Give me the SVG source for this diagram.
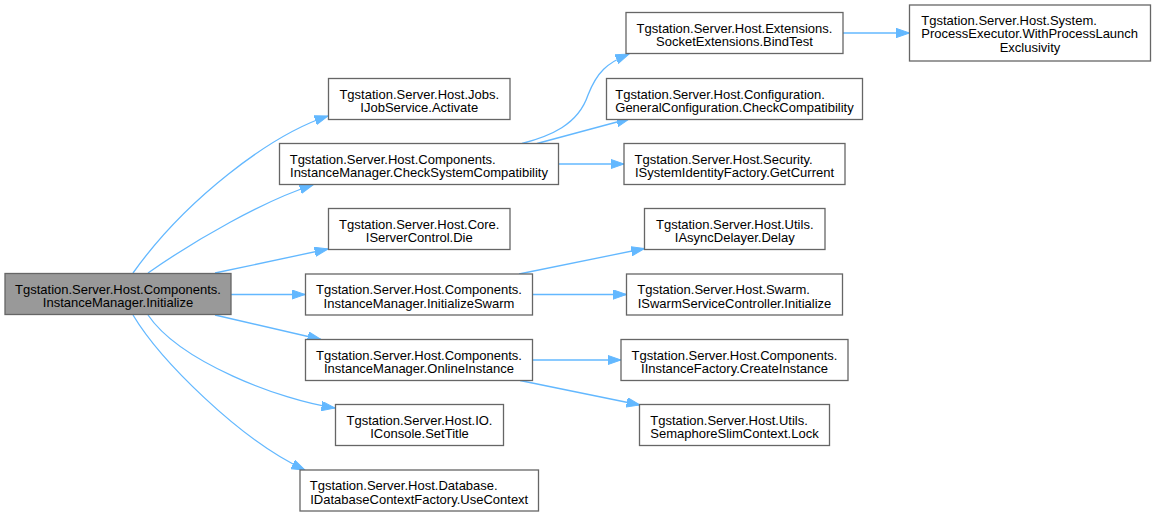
<svg xmlns="http://www.w3.org/2000/svg" width="1155" height="516" viewBox="0 0 1155 516">
<defs>
<style>
.node rect{fill:#ffffff;stroke:#666666;stroke-width:1.3}
#n_init rect{fill:#999999}
text{font-family:"Liberation Sans",Arial,Helvetica,sans-serif;font-size:13px;fill:#000000}
.c{text-anchor:middle}
.s{text-anchor:start}
.edge{fill:none;stroke:#63b8ff;stroke-width:1.3;marker-end:url(#arr)}
</style>
<marker id="arr" markerUnits="userSpaceOnUse" markerWidth="14" markerHeight="10" refX="13.5" refY="4.7" orient="auto">
<path d="M0,0 L13.5,4.7 L0,9.4 z" fill="#63b8ff" stroke="#63b8ff" stroke-width="1"/>
</marker>
</defs>
<rect x="0" y="0" width="1155" height="516" fill="#ffffff"/>
<g id="edges">
<path class="edge" d="M133,273 C185,200 270,135 328,116"/>
<path class="edge" d="M148,273 C195,240 265,200 313,185"/>
<path class="edge" d="M215,273 L328,249"/>
<path class="edge" d="M231,294.5 L305,294.5"/>
<path class="edge" d="M215,315 L321,339.5"/>
<path class="edge" d="M148,315 C180,362 280,400 335,408"/>
<path class="edge" d="M133,315 C160,360 240,440 305,470"/>
<path class="edge" d="M522,143.5 C550,136 578,125 588,95 C597,72 607,63 629,54"/>
<path class="edge" d="M537,143.5 L630,118.5"/>
<path class="edge" d="M558.5,164 L624,164"/>
<path class="edge" d="M843,33 L909.5,33"/>
<path class="edge" d="M519,274 L644.5,248.5"/>
<path class="edge" d="M532.5,294.5 L626.5,294.5"/>
<path class="edge" d="M532.5,360 L621,360"/>
<path class="edge" d="M520,380.5 L640,405"/>
</g>
<g id="n_init" class="node"><rect x="5" y="273.5" width="226" height="41"/>
<text class="c" x="118" y="293.5">Tgstation.Server.Host.Components.</text>
<text class="c" x="118" y="307">InstanceManager.Initialize</text></g>
<g id="n_activate" class="node"><rect x="328.5" y="78.5" width="181.5" height="41"/>
<text class="c" x="419.25" y="98.5">Tgstation.Server.Host.Jobs.</text>
<text class="c" x="419.25" y="112">IJobService.Activate</text></g>
<g id="n_csc" class="node"><rect x="279.5" y="143.5" width="279" height="41"/>
<text class="s" x="289.7" y="163.5">Tgstation.Server.Host.Components.</text>
<text class="c" x="419" y="177">InstanceManager.CheckSystemCompatibility</text></g>
<g id="n_die" class="node"><rect x="328.5" y="208.5" width="181.5" height="41"/>
<text class="c" x="419.25" y="228.5">Tgstation.Server.Host.Core.</text>
<text class="c" x="419.25" y="242">IServerControl.Die</text></g>
<g id="n_initswarm" class="node"><rect x="305.5" y="274" width="227" height="41"/>
<text class="c" x="419" y="294">Tgstation.Server.Host.Components.</text>
<text class="c" x="419" y="307.5">InstanceManager.InitializeSwarm</text></g>
<g id="n_online" class="node"><rect x="305.5" y="339.5" width="227" height="41"/>
<text class="c" x="419" y="359.5">Tgstation.Server.Host.Components.</text>
<text class="c" x="419" y="373">InstanceManager.OnlineInstance</text></g>
<g id="n_settitle" class="node"><rect x="335.5" y="404.5" width="168" height="41"/>
<text class="c" x="419.5" y="424.5">Tgstation.Server.Host.IO.</text>
<text class="c" x="419.5" y="438">IConsole.SetTitle</text></g>
<g id="n_usecontext" class="node"><rect x="300" y="470" width="238.5" height="41"/>
<text class="s" x="309.8" y="490">Tgstation.Server.Host.Database.</text>
<text class="c" x="419.25" y="503.5">IDatabaseContextFactory.UseContext</text></g>
<g id="n_bindtest" class="node"><rect x="626" y="12.5" width="217" height="41"/>
<text class="c" x="734.5" y="32.5">Tgstation.Server.Host.Extensions.</text>
<text class="c" x="734.5" y="46">SocketExtensions.BindTest</text></g>
<g id="n_genconf" class="node"><rect x="606.5" y="78.5" width="256" height="41"/>
<text class="s" x="615.3" y="98.5">Tgstation.Server.Host.Configuration.</text>
<text class="c" x="734.5" y="112">GeneralConfiguration.CheckCompatibility</text></g>
<g id="n_getcurrent" class="node"><rect x="624" y="143.5" width="221" height="41"/>
<text class="s" x="634.5" y="163.5">Tgstation.Server.Host.Security.</text>
<text class="c" x="734.5" y="177">ISystemIdentityFactory.GetCurrent</text></g>
<g id="n_delay" class="node"><rect x="644.5" y="208.5" width="180.5" height="41"/>
<text class="c" x="734.75" y="228.5">Tgstation.Server.Host.Utils.</text>
<text class="c" x="734.75" y="242">IAsyncDelayer.Delay</text></g>
<g id="n_swarminit" class="node"><rect x="626.5" y="274" width="216" height="41"/>
<text class="s" x="637.3" y="294">Tgstation.Server.Host.Swarm.</text>
<text class="c" x="734.5" y="307.5">ISwarmServiceController.Initialize</text></g>
<g id="n_createinst" class="node"><rect x="621" y="339.5" width="227" height="41"/>
<text class="c" x="734.5" y="359.5">Tgstation.Server.Host.Components.</text>
<text class="c" x="734.5" y="373">IInstanceFactory.CreateInstance</text></g>
<g id="n_lock" class="node"><rect x="639.5" y="404.5" width="190" height="41"/>
<text class="s" x="650.3" y="424.5">Tgstation.Server.Host.Utils.</text>
<text class="c" x="734.5" y="438">SemaphoreSlimContext.Lock</text></g>
<g id="n_wpl" class="node"><rect x="909.5" y="5" width="241" height="56"/>
<text class="s" x="921.3" y="24.5">Tgstation.Server.Host.System.</text>
<text class="s" x="921.3" y="38">ProcessExecutor.WithProcessLaunch</text>
<text class="c" x="1030" y="52">Exclusivity</text></g>
</svg>
